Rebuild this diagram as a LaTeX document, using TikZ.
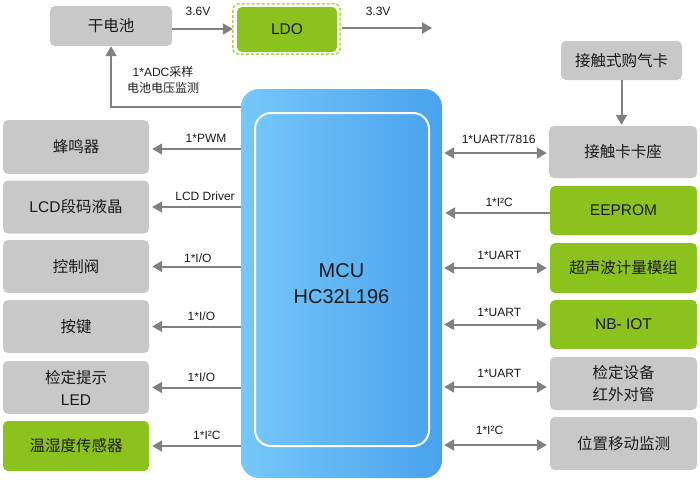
\documentclass[tikz,border=0pt]{standalone}
\usepackage{fontspec}
\setmainfont{Liberation Sans}
\newfontfamily\cjk{Noto Sans CJK SC}
\usetikzlibrary{arrows.meta}
\definecolor{boxgray}{HTML}{C8C8C8}
\definecolor{boxgreen}{HTML}{8CC21E}
\definecolor{dashgreen}{HTML}{A6D84A}
\definecolor{arrgray}{HTML}{808080}
\definecolor{mcuL}{HTML}{76C8F8}
\definecolor{mcuR}{HTML}{4AA2EE}
\definecolor{txt}{HTML}{1A1A1A}
\begin{document}
\begin{tikzpicture}[x=1pt,y=-1pt,
  box/.style={rounded corners=5pt, inner sep=0pt, align=center, text=txt,
    font=\fontsize{15.5}{21}\selectfont},
  gbox/.style={box, fill=boxgray},
  grbox/.style={box, fill=boxgreen},
  tip/.tip={Triangle[length=10pt,width=11pt]},
  arr/.style={draw=arrgray, line width=2pt, -tip},
  darr/.style={draw=arrgray, line width=2pt, tip-tip},
  lbl/.style={font=\fontsize{12}{15}\selectfont, text=txt, inner sep=0pt, align=center}
]
\useasboundingbox (0,0) rectangle (700,482);

% power
\node[gbox, minimum width=122pt, minimum height=40pt] (bat) at (111,26) {\cjk 干电池};
\node[grbox, minimum width=100pt, minimum height=45pt] (ldo) at (287,29.5) {LDO};
\draw[dashgreen, line width=1.5pt, dash pattern=on 3pt off 2pt, rounded corners=6pt]
  ([shift={(-4,-3)}]ldo.north west) rectangle ([shift={(3,2)}]ldo.south east);
\coordinate (vout) at (432,28);
\draw[arr, shorten >=4pt] (bat.east |- 0,29) -- node[lbl, above=12pt, pos=0.4] {3.6V} (ldo.west |- 0,29);
\draw[arr] ([xshift=5pt]ldo.east |- vout) -- node[lbl, above=11pt, pos=0.4] {3.3V} (vout);

% MCU
\node[rounded corners=18pt, left color=mcuL, right color=mcuR, minimum width=201pt,
  minimum height=389pt, inner sep=0pt] (mcu) at (341.5,283.5) {};
\draw[white, line width=2pt, rounded corners=16pt] (255,113) rectangle (429,446);
\node[align=center, text=txt, font=\fontsize{20}{26}\selectfont] (mcutext) at (341.5,284) {MCU\\HC32L196};

% ADC sense
\coordinate (adcS) at (241,107);
\draw[arr] (adcS) -| (bat.south);
\node[lbl, font=\fontsize{12}{16}\selectfont] (adclbl) at (163,80) {1*ADC{\cjk 采样}\\{\cjk 电池电压监测}};

% left column
\node[gbox, minimum width=146pt, minimum height=54pt] (buzz) at (76,147) {\cjk 蜂鸣器};
\node[gbox, minimum width=146pt, minimum height=53pt] (lcd) at (76,207) {LCD{\cjk 段码液晶}};
\node[gbox, minimum width=146pt, minimum height=53pt] (valve) at (76,266.5) {\cjk 控制阀};
\node[gbox, minimum width=146pt, minimum height=53pt] (key) at (76,326.5) {\cjk 按键};
\node[gbox, minimum width=146pt, minimum height=53pt, font=\fontsize{15.5}{22}\selectfont] (led) at (76,387.5) {{\cjk 检定提示}\\LED};
\node[grbox, minimum width=146pt, minimum height=50pt] (th) at (76,446) {\cjk 温湿度传感器};

\draw[arr, shorten >=3pt] (mcu.west |- 0,149) -- node[lbl, above=6pt, pos=0.38] {1*PWM} (buzz.east |- 0,149);
\draw[arr, shorten >=3pt] (mcu.west |- lcd.east) -- node[lbl, above=5pt, pos=0.39] {LCD Driver} (lcd.east);
\draw[arr, shorten >=3pt] (mcu.west |- valve.east) -- node[lbl, above=3pt, pos=0.47] {1*I/O} (valve.east);
\draw[arr, shorten >=3pt] (mcu.west |- key.east) -- node[lbl, above=5pt, pos=0.43] {1*I/O} (key.east);
\draw[arr, shorten >=3pt] (mcu.west |- led.east) -- node[lbl, above=5pt, pos=0.43] {1*I/O} (led.east);
\draw[arr, shorten >=3pt] (mcu.west |- th.east) -- node[lbl, above=5pt, pos=0.37] {1*I²C} (th.east);

% right column
\node[gbox, minimum width=121pt, minimum height=39pt] (card) at (621.5,60.5) {\cjk 接触式购气卡};
\node[gbox, minimum width=148pt, minimum height=52pt] (seat) at (623,152) {\cjk 接触卡卡座};
\node[grbox, minimum width=147pt, minimum height=49pt] (eep) at (623.5,210.5) {EEPROM};
\node[grbox, minimum width=147pt, minimum height=50pt] (us) at (623.5,268) {\cjk 超声波计量模组};
\node[grbox, minimum width=147pt, minimum height=49pt] (nb) at (623.5,324.5) {NB- IOT};
\node[gbox, minimum width=147pt, minimum height=53pt, font=\fontsize{15.5}{22}\selectfont] (ir) at (623.5,383.5) {{\cjk 检定设备}\\{\cjk 红外对管}};
\node[gbox, minimum width=147pt, minimum height=53pt] (pos) at (623.5,443.5) {\cjk 位置移动监测};

\draw[arr, shorten >=1pt] (card.south) -- (card.south |- seat.north);
\draw[darr, shorten <=2pt, shorten >=2pt] (mcu.east |- 0,153) -- node[lbl, above=8pt, pos=0.53] {1*UART/7816} (seat.west |- 0,153);
\draw[arr, shorten >=3pt] (eep.west |- 0,213) -- node[lbl, above=5pt, pos=0.47] {1*I²C} (mcu.east |- 0,213);
\draw[darr, shorten <=2pt, shorten >=3pt] (mcu.east |- us.west) -- node[lbl, above=7pt, pos=0.53] {1*UART} (us.west);
\draw[darr, shorten <=2pt, shorten >=3pt] (mcu.east |- nb.west) -- node[lbl, above=7pt, pos=0.53] {1*UART} (nb.west);
\draw[darr, shorten <=2pt, shorten >=3pt] (mcu.east |- 0,387) -- node[lbl, above=8pt, pos=0.53] {1*UART} (ir.west |- 0,387);
\draw[darr, shorten <=2pt, shorten >=3pt] (mcu.east |- 0,445) -- node[lbl, above=9pt, pos=0.44] {1*I²C} (pos.west |- 0,445);
\end{tikzpicture}
\end{document}
